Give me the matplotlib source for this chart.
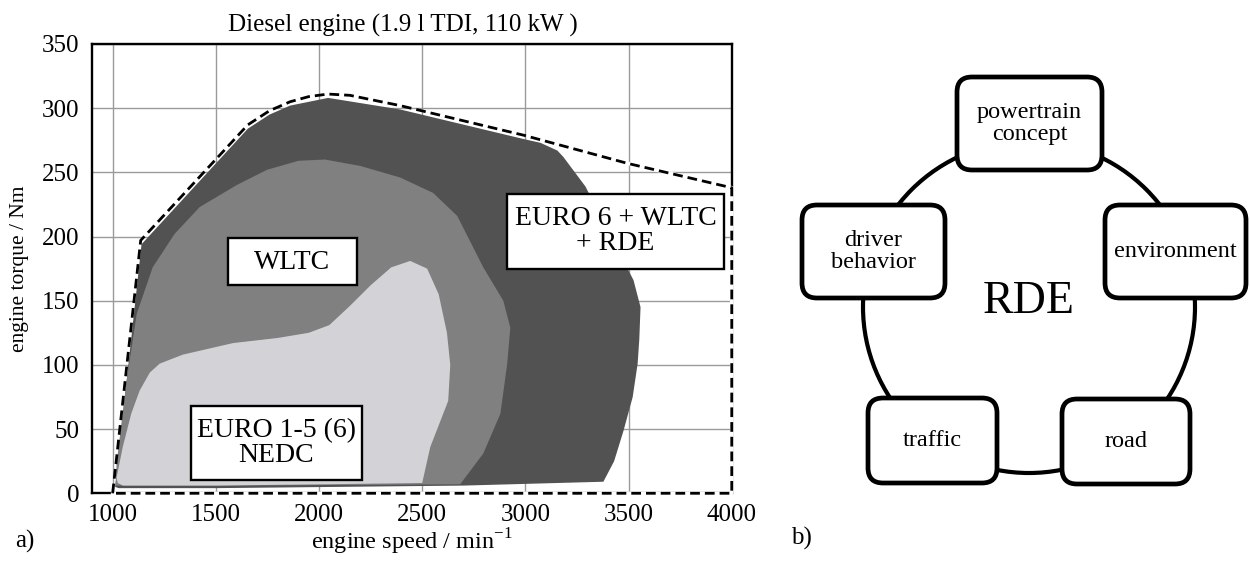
import matplotlib.pyplot as plt
import numpy as np
from matplotlib.patches import Rectangle, FancyBboxPatch, Circle

plt.rcParams['font.family'] = ['Liberation Serif', 'DejaVu Serif']
plt.rcParams['mathtext.fontset'] = 'custom'
plt.rcParams['mathtext.rm'] = 'Liberation Serif'

# full load curve (dashed)
full_speed = [1000, 1136, 1655, 1760, 1860, 1950, 2044, 2150, 2393, 2990, 3495, 4000, 4000, 1000]
full_torque = [0, 197, 287, 298, 305, 309, 311, 310, 302, 279, 257, 238, 0, 0]

# EURO 6 + WLTC + RDE area
rde_speed = [1012, 1140, 1655, 1760, 1860, 2044, 2393, 2990, 3073, 3155, 3184, 3291, 3415,
             3524, 3558, 3552, 3544, 3520, 3476, 3430, 3378, 2700, 1500, 1030]
rde_torque = [5, 194, 284, 295, 302, 308, 299, 276, 273, 267, 262, 239, 200,
              166, 145, 120, 101, 75, 49, 25, 9, 6, 4, 4]

# WLTC area
wltc_speed = [1015, 1019, 1068, 1117, 1194, 1300, 1422, 1600, 1748, 1900, 2029, 2200, 2393,
              2553, 2670, 2796, 2893, 2927, 2912, 2879, 2796, 2684, 1500, 1040]
wltc_torque = [6, 23, 88, 140, 176, 202, 223, 240, 252, 259, 260, 255, 246,
               234, 216, 176, 150, 129, 101, 62, 31, 7, 6, 6]

# EURO 1-5 / NEDC area
nedc_speed = [1019, 1049, 1090, 1131, 1180, 1228, 1340, 1583, 1800, 1950, 2050, 2150, 2250,
              2350, 2442, 2524, 2580, 2620, 2636, 2626, 2539, 2500, 1500, 1050, 1025]
nedc_torque = [12, 36, 62, 80, 94, 101, 108, 117, 121, 125, 131, 146, 162,
               176, 181, 175, 155, 125, 100, 72, 36, 8, 6, 6, 8]

x_ticks = [1000, 1500, 2000, 2500, 3000, 3500, 4000]
y_ticks = [0, 50, 100, 150, 200, 250, 300, 350]

fig = plt.figure(figsize=(12.5, 5.61), dpi=100)
ax = fig.add_axes([0.0736, 0.1207, 0.5118, 0.8009])

ax.fill(rde_speed, rde_torque, color='#525252', lw=0, zorder=1)
ax.fill(wltc_speed, wltc_torque, color='#808080', lw=0, zorder=1.1)
ax.fill(nedc_speed, nedc_torque, color='#d3d2d6', lw=0, zorder=1.2)

# hide the frame under the dashed border, then draw the dashed line
ax.plot(full_speed[-4:], full_torque[-4:], color='white', lw=2.6, zorder=2.6, clip_on=False)
ax.plot(full_speed, full_torque, color='black', lw=2.0, ls=(0, (3.5, 1.8)), zorder=2.7,
        clip_on=False)

ax.set_xlim(900, 4000)
ax.set_ylim(0, 350)
ax.set_xticks(x_ticks)
ax.set_yticks(y_ticks)
ax.grid(True, color='#9a9a9a', lw=1)
ax.set_axisbelow(True)
ax.tick_params(length=0, labelsize=18)
ax.tick_params(axis='y', pad=9)
ax.tick_params(axis='x', pad=8)
for s in ax.spines.values():
    s.set_linewidth(1.7)

ax.set_title('Diesel engine (1.9 l TDI, 110 kW )', fontsize=18, pad=9, x=0.486)
ax.set_xlabel('engine speed / min$^{\\mathregular{-1}}$', fontsize=17.5, labelpad=0)
ax.set_ylabel('engine torque / Nm', fontsize=15.5, labelpad=9)

# label boxes (speed range, torque range, text)
boxes = [
    ((1558, 2184), (162, 199), (1871, 180), 'WLTC'),
    ((1379, 2209), (10, 68), (1794, 39), 'EURO 1-5 (6)\nNEDC'),
    ((2913, 3961), (175, 233), (3437, 204), 'EURO 6 + WLTC\n+ RDE'),
]
for (x0, x1), (y0, y1), (tx, ty), txt in boxes:
    ax.add_patch(Rectangle((x0, y0), x1 - x0, y1 - y0, fc='white', ec='black',
                           lw=1.7, zorder=3))
    ax.text(tx, ty, txt, ha='center', va='center', fontsize=20, zorder=4,
            linespacing=1.0)

fig.text(15 / 1250, 1 - 541 / 561, 'a)', fontsize=18, va='center', ha='left')
fig.text(791 / 1250, 1 - 538 / 561, 'b)', fontsize=18, va='center', ha='left')

# right panel: RDE influences
ax2 = fig.add_axes([0.6, 0, 0.4, 1])
ax2.set_xlim(750, 1250)
ax2.set_ylim(561, 0)
ax2.axis('off')

ax2.add_patch(Circle((1029, 307), 166, fill=False, ec='black', lw=3.0, zorder=1))
ax2.text(1029, 302, 'RDE', ha='center', va='center', fontsize=33, zorder=3)

factors = [
    (957, 77, 145, 93, 'powertrain\nconcept'),
    (802, 205, 143, 93, 'driver\nbehavior'),
    (1105, 205, 141, 93, 'environment'),
    (868, 398, 129, 85, 'traffic'),
    (1062, 399, 128, 85, 'road'),
]
for x0, y0, w, h, txt in factors:
    ax2.add_patch(FancyBboxPatch((x0, y0), w, h, boxstyle='round,pad=0,rounding_size=15',
                                 fc='white', ec='black', lw=3.4, zorder=2, clip_on=False))
    ax2.text(x0 + w / 2, y0 + h / 2, txt, ha='center', va='center', fontsize=17.5,
             linespacing=1.05, zorder=3)

fig.savefig('out.png', dpi=100)
